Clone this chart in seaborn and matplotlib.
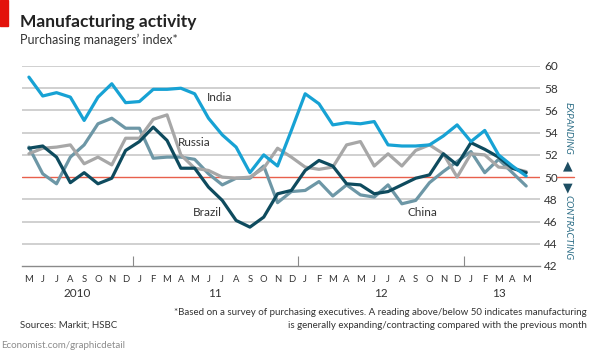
import numpy as np
import pandas as pd
import matplotlib.pyplot as plt
import matplotlib.transforms as mtransforms
from matplotlib.patches import Rectangle
import seaborn as sns

# Monthly PMI, May 2010 - May 2013
months = ["M", "J", "J", "A", "S", "O", "N", "D",
          "J", "F", "M", "A", "M", "J", "J", "A", "S", "O", "N", "D",
          "J", "F", "M", "A", "M", "J", "J", "A", "S", "O", "N", "D",
          "J", "F", "M", "A", "M"]
years = ["2010", "11", "12", "13"]

india = [59.0, 57.3, 57.6, 57.2, 55.1, 57.2, 58.4, 56.7,
         56.8, 57.9, 57.9, 58.0, 57.5, 55.3, 53.8, 52.7, 50.4, 52.0, 51.0, 54.2,
         57.5, 56.6, 54.7, 54.9, 54.8, 55.0, 52.9, 52.8, 52.8, 52.9, 53.7, 54.7,
         53.2, 54.2, 52.0, 51.0, 50.1]
brazil = [52.6, 52.8, 51.8, 49.5, 50.4, 49.4, 49.9, 52.4,
          53.2, 54.5, 53.3, 50.8, 50.8, 49.1, 47.9, 46.1, 45.5, 46.4, 48.5, 48.8,
          50.6, 51.5, 51.0, 49.4, 49.3, 48.5, 48.7, 49.3, 49.9, 50.2, 52.1, 51.1,
          53.1, 52.5, 51.8, 50.8, 50.4]
russia = [52.1, 52.6, 52.7, 52.9, 51.2, 51.8, 51.1, 53.5,
          53.5, 55.2, 55.6, 52.0, 50.8, 50.6, 50.0, 49.9, 50.0, 50.8, 52.6, 51.8,
          50.9, 50.7, 50.9, 52.9, 53.2, 51.0, 52.1, 51.0, 52.4, 52.9, 52.1, 50.0,
          52.1, 52.0, 50.9, 50.8, 50.5]
china = [52.7, 50.3, 49.4, 51.8, 52.9, 54.8, 55.3, 54.4,
         54.4, 51.7, 51.8, 51.8, 51.6, 50.3, 49.3, 49.9, 49.9, 51.0, 47.7, 48.7,
         48.8, 49.6, 48.3, 49.3, 48.4, 48.2, 49.3, 47.6, 47.9, 49.5, 50.5, 51.4,
         52.3, 50.4, 51.6, 50.4, 49.2]

countries = ["China", "Russia", "Brazil", "India"]
colors = {"India": "#17a2d4", "Brazil": "#0e4b5e", "Russia": "#a7a7a7", "China": "#6d97a6"}

series = {"India": india, "Brazil": brazil, "Russia": russia, "China": china}
frames = []
for name in countries:
    frames.append(pd.DataFrame({"idx": np.arange(len(months)), "pmi": series[name], "country": name}))
df = pd.concat(frames, ignore_index=True)

sns.set_style("white")
plt.rcParams["font.family"] = ["Lato", "DejaVu Sans"]

fig = plt.figure(figsize=(5.95, 3.53), dpi=100)
ax = fig.add_axes([22 / 595, 1 - 266 / 353, 518 / 595, 200 / 353])

# grid
for v in range(44, 61, 2):
    if v != 50:
        ax.axhline(v, color="#c8c8c8", lw=1.2, zorder=0)
ax.axhline(50, color="#e8604c", lw=1.0, zorder=1)

sns.lineplot(data=df, x="idx", y="pmi", hue="country", hue_order=countries,
             palette=colors, linewidth=2.3, legend=False, ax=ax, zorder=3)

ax.set_xlim(-0.5, 37.0)
ax.set_ylim(42, 60)
ax.set_xlabel("")
ax.set_ylabel("")
for s in ["top", "left", "right"]:
    ax.spines[s].set_visible(False)
ax.spines["bottom"].set_color("#8a8a8a")
ax.spines["bottom"].set_linewidth(1.0)

# y axis on right
ax.yaxis.tick_right()
ax.set_yticks(range(42, 61, 2))
ax.tick_params(axis="y", length=0, pad=3, labelsize=8.5, labelcolor="#333333")

# month labels and ticks
ax.set_xticks(np.arange(len(months)))
ax.set_xticklabels(months)
ax.set_xticks(np.arange(len(months) + 1) - 0.5, minor=True)
ax.tick_params(axis="x", which="major", length=0, pad=6.5, labelsize=6.8, labelcolor="#333333")
ax.tick_params(axis="x", which="minor", length=3.5, direction="in", color="#8a8a8a", width=0.8)

# year separators and year labels
sec = ax.secondary_xaxis("bottom")
sec.set_xticks([7.5, 19.5, 31.5])
sec.set_xticklabels([])
sec.set_xticks([3.5, 13.5, 25.5, 34], minor=True)
sec.set_xticklabels(years, minor=True)
sec.tick_params(axis="x", which="major", length=7, direction="in", color="#8a8a8a", width=0.8)
sec.tick_params(axis="x", which="minor", length=0, pad=15.5, labelsize=8.5, labelcolor="#333333")
sec.spines["bottom"].set_visible(False)

# series labels
lab = dict(fontsize=8.5, color="#333333", ha="center", va="center", zorder=5)
ax.text(13.8, 57.2, "India", **lab)
ax.text(12.0, 53.1, "Russia", **lab)
ax.text(12.9, 46.85, "Brazil", **lab)
ax.text(28.5, 46.85, "China", **lab)

# red marker beyond labels
trans = mtransforms.blended_transform_factory(ax.transAxes, ax.transData)
ax.plot([1.033, 1.065], [50, 50], color="#e8604c", lw=1.0, transform=trans, clip_on=False)

# expanding / contracting
fig.text(568 / 595, 1 - 128 / 353, "EXPANDING", rotation=270, ha="center", va="center",
         fontsize=7, style="italic", color="#2d6e87")
fig.text(568 / 595, 1 - 228 / 353, "CONTRACTING", rotation=270, ha="center", va="center",
         fontsize=7, style="italic", color="#2d6e87")
fig.text(568 / 595, 1 - 166 / 353, "▲", ha="center", va="center", fontsize=9,
         color="#1d4e63", family="DejaVu Sans")
fig.text(568 / 595, 1 - 188 / 353, "▼", ha="center", va="center", fontsize=9,
         color="#1d4e63", family="DejaVu Sans")

# header
fig.patches.append(Rectangle((0, 1 - 26 / 353), 8 / 595, 26 / 353, transform=fig.transFigure,
                             color="#e3120b", zorder=10))
fig.text(20 / 595, 1 - 27 / 353, "Manufacturing activity", fontsize=12.5, fontweight="bold",
         color="#222222", va="baseline")
fig.text(20 / 595, 1 - 44 / 353, "Purchasing managers’ index*", fontsize=9, color="#333333",
         va="baseline")

# footer
fig.text(587 / 595, 1 - 315 / 353,
         "*Based on a survey of purchasing executives. A reading above/below 50 indicates manufacturing",
         fontsize=7, color="#333333", ha="right", va="baseline")
fig.text(587 / 595, 1 - 328 / 353,
         "is generally expanding/contracting compared with the previous month",
         fontsize=7, color="#333333", ha="right", va="baseline")
fig.text(20 / 595, 1 - 328 / 353, "Sources: Markit; HSBC", fontsize=7, color="#333333", va="baseline")
fig.text(1 / 595, 1 - 348 / 353, "Economist.com/graphicdetail", fontsize=7, color="#8c8c8c", va="baseline")

fig.savefig("out.png", dpi=100)
